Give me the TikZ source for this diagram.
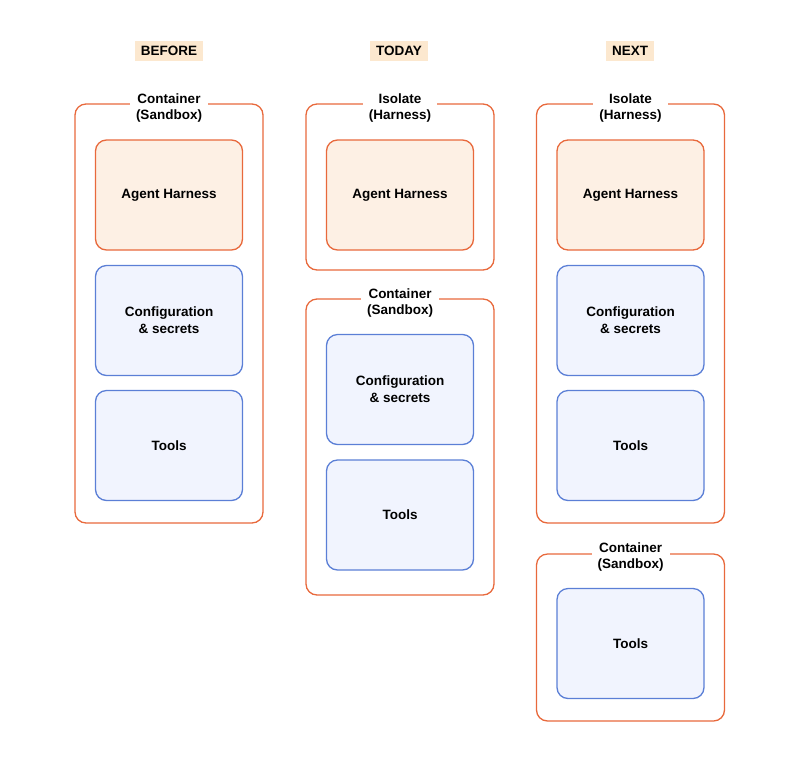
\documentclass[tikz,border=0pt]{standalone}
\usepackage{fontspec}
\setmainfont{Liberation Sans}
\usetikzlibrary{positioning}

\definecolor{edgeorange}{HTML}{E8693C}
\definecolor{fillorange}{HTML}{FDF0E4}
\definecolor{edgeblue}{HTML}{5B7FD6}
\definecolor{fillblue}{HTML}{F1F4FE}
\definecolor{tagfill}{HTML}{FCE8CF}

\tikzset{
  outer/.style={draw=edgeorange, line width=1.3pt, rounded corners=11pt, minimum width=188pt},
  harness/.style={draw=edgeorange, fill=fillorange, line width=1.3pt, rounded corners=11pt,
    minimum width=147pt, minimum height=110pt, font=\bfseries\fontsize{13.5}{17}\selectfont, align=center},
  part/.style={harness, draw=edgeblue, fill=fillblue},
  caption/.style={fill=white, inner xsep=6pt, inner ysep=1pt, font=\bfseries\fontsize{13.5}{16.5}\selectfont, align=center},
  tag/.style={fill=tagfill, inner xsep=6pt, inner ysep=5pt, font=\bfseries\fontsize{13.5}{16}\selectfont}
}

\begin{document}
\begin{tikzpicture}[x=1pt, y=-1pt]
\useasboundingbox (0,0) rectangle (800,764);

% headers
\node[tag] (before) at (169,51) {BEFORE};
\node[tag] (today) at (399,51) {TODAY};
\node[tag] (next) at (630,51) {NEXT};

% before
\node[outer, minimum height=419pt] (box1) at (169,313.5) {};
\node[caption] (cap1) at (169,108) {Container\\(Sandbox)};
\node[harness] (agent1) at (169,195) {Agent Harness};
\node[part] (conf1) at (169,320.5) {Configuration\\\& secrets};
\node[part] (tools1) at (169,445.5) {Tools};

% today
\node[outer, minimum height=166pt] (box2) at (400,187) {};
\node[caption] (cap2) at (400,108) {Isolate\\(Harness)};
\node[harness] (agent2) at (400,195) {Agent Harness};
\node[outer, minimum height=296pt] (box3) at (400,447) {};
\node[caption] (cap3) at (400,303) {Container\\(Sandbox)};
\node[part] (conf2) at (400,389.5) {Configuration\\\& secrets};
\node[part] (tools2) at (400,515) {Tools};

% next
\node[outer, minimum height=419pt] (box4) at (630.5,313.5) {};
\node[caption] (cap4) at (630.5,108) {Isolate\\(Harness)};
\node[harness] (agent3) at (630.5,195) {Agent Harness};
\node[part] (conf3) at (630.5,320.5) {Configuration\\\& secrets};
\node[part] (tools3) at (630.5,445.5) {Tools};
\node[outer, minimum height=167pt] (box5) at (630.5,637.5) {};
\node[caption] (cap5) at (630.5,557) {Container\\(Sandbox)};
\node[part] (tools4) at (630.5,643.5) {Tools};
\end{tikzpicture}
\end{document}
